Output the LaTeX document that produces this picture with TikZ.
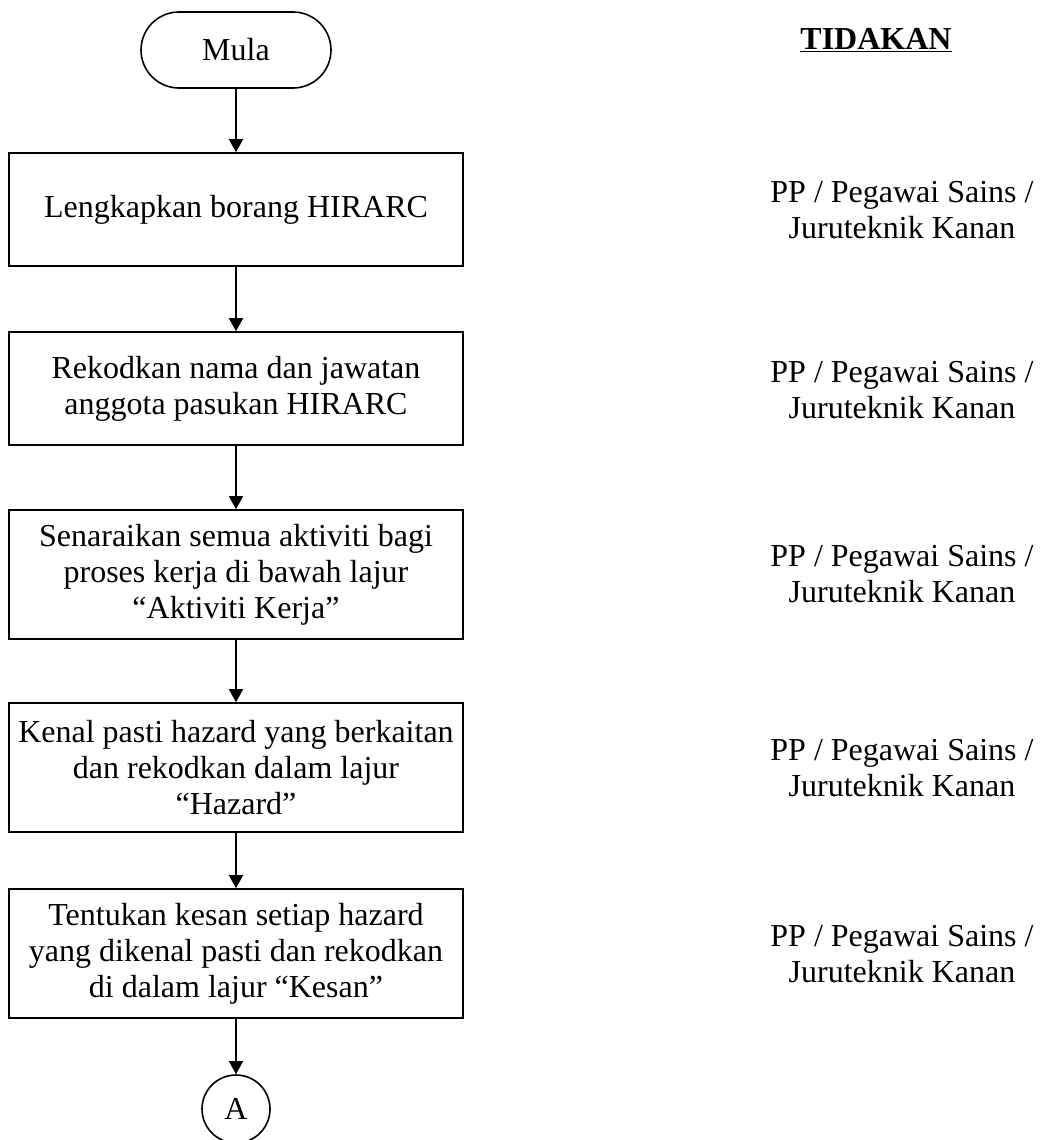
\documentclass[tikz,border=0pt]{standalone}
\usepackage{fontspec}
\setmainfont{Liberation Serif}
\usetikzlibrary{arrows.meta}
\tikzset{
  txt/.style={font=\fontsize{32}{36}\selectfont, align=center},
  procbox/.style={txt, draw, line width=1.6pt, minimum width=454pt, inner sep=0pt},
  termbox/.style={txt, draw, line width=1.6pt, rounded corners=38pt, minimum width=190pt, minimum height=76pt, inner sep=0pt},
  connbox/.style={txt, draw, circle, line width=1.6pt, minimum size=68pt, inner sep=0pt},
  arr/.style={line width=1.6pt, -{Triangle[width=14pt,length=13pt]}},
  role/.style={txt}
}
\begin{document}
\begin{tikzpicture}[x=1pt,y=-1pt]
\useasboundingbox (0,0) rectangle (1039,1140);
\node[termbox] (mula) at (236,50) {Mula};
\node[procbox, minimum height=113pt] (b1) at (236,209.5) {Lengkapkan borang HIRARC};
\node[procbox, minimum height=113pt] (b2) at (236,388.5) {Rekodkan nama dan jawatan\\anggota pasukan HIRARC};
\node[procbox, minimum height=129pt] (b3) at (236,574.5) {Senaraikan semua aktiviti bagi\\proses kerja di bawah lajur\\“Aktiviti Kerja”};
\node[procbox, minimum height=129pt] (b4) at (236,767.5) {Kenal pasti hazard yang berkaitan\\dan rekodkan dalam lajur\\“Hazard”};
\node[procbox, minimum height=129pt] (b5) at (236,953.5) {Tentukan kesan setiap hazard\\yang dikenal pasti dan rekodkan\\di dalam lajur “Kesan”};
\node[connbox] (a) at (236,1109) {A};

\draw[arr] (mula) -- (b1);
\draw[arr] (b1) -- (b2);
\draw[arr] (b2) -- (b3);
\draw[arr] (b3) -- (b4);
\draw[arr] (b4) -- (b5);
\draw[arr] (b5) -- (a);

\node[txt, anchor=base] (head) at (876,50) {\underline{\textbf{TIDAKAN}}};
\node[role] (r1) at (902,210) {PP / Pegawai Sains /\\Juruteknik Kanan};
\node[role] (r2) at (902,390) {PP / Pegawai Sains /\\Juruteknik Kanan};
\node[role] (r3) at (902,574) {PP / Pegawai Sains /\\Juruteknik Kanan};
\node[role] (r4) at (902,768) {PP / Pegawai Sains /\\Juruteknik Kanan};
\node[role] (r5) at (902,954) {PP / Pegawai Sains /\\Juruteknik Kanan};
\end{tikzpicture}
\end{document}
